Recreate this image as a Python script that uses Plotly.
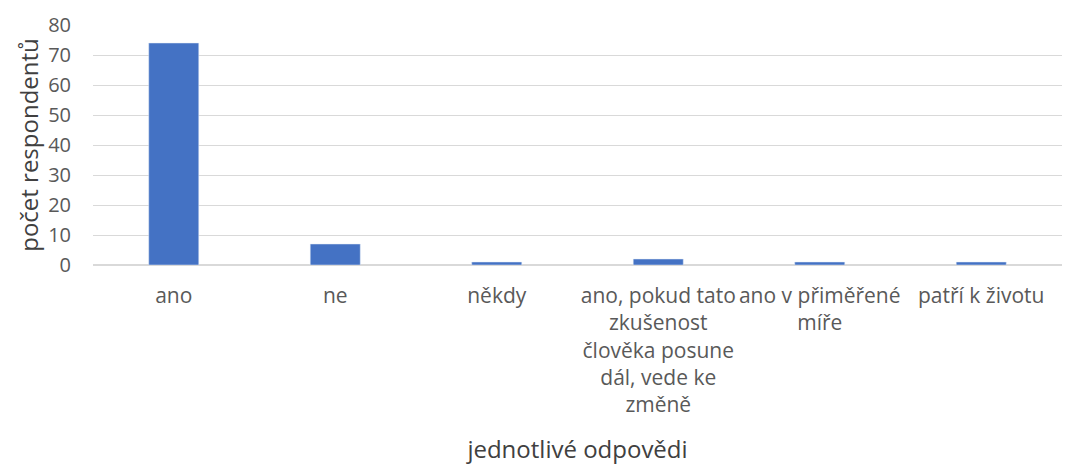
import plotly.graph_objects as go

categories = ["ano", "ne", "někdy",
              "ano, pokud tato<br>zkušenost<br>člověka posune<br>dál, vede ke<br>změně",
              "ano v přiměřené<br>míře", "patří k životu"]
values = [74, 7, 1, 2, 1, 1]

fig = go.Figure(go.Bar(x=categories, y=values, marker_color="#4472C4", width=0.31))

font = "Open Sans, Liberation Sans, sans-serif"
fig.update_layout(
    width=1066, height=465,
    margin=dict(l=93, r=4, t=25, b=200),
    plot_bgcolor="white", paper_bgcolor="white",
    font=dict(family=font, color="#595959", size=20),
    showlegend=False,
)
fig.update_yaxes(range=[0, 80], dtick=10, showgrid=True, gridcolor="#d9d9d9", gridwidth=1,
                 zeroline=True, zerolinecolor="#d9d9d9", showline=False, automargin=False,
                 ticks="", ticklabelstandoff=21, tickfont=dict(size=20),
                 title=dict(text="počet respondentů", font=dict(size=24, color="#404040"), standoff=2))
fig.update_xaxes(showline=False, ticks="", tickangle=0, ticklabelstandoff=16, automargin=False,
                 tickfont=dict(size=21),
                 title=dict(text="jednotlivé odpovědi", font=dict(size=24, color="#404040"), standoff=25))
fig.write_html("out.html", config={"displayModeBar": False},
               post_script="document.body.style.margin='0';")
